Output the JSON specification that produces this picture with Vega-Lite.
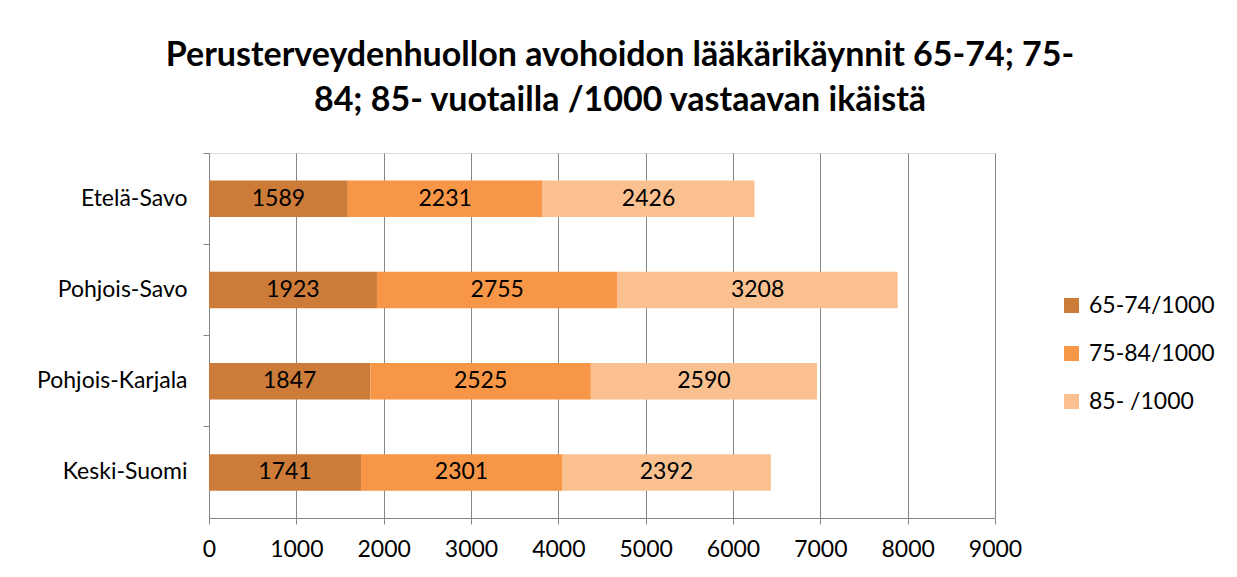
{
  "$schema": "https://vega.github.io/schema/vega-lite/v6.json",
  "autosize": {"type": "none"},
  "padding": {"left": 209, "top": 153, "right": 242, "bottom": 59},
  "width": 786,
  "height": 365,
  "background": "white",
  "title": {
    "text": ["Perusterveydenhuollon avohoidon lääkärikäynnit 65-74; 75-", "84; 85- vuotailla /1000 vastaavan ikäistä"],
    "font": "Lato",
    "fontSize": 34,
    "fontWeight": "bold",
    "color": "#000000",
    "anchor": "middle",
    "frame": "group",
    "dx": 18,
    "offset": 35,
    "lineHeight": 45
  },
  "data": {
    "values": [
      {"region": "Etelä-Savo", "group": "65-74/1000", "value": 1589},
      {"region": "Etelä-Savo", "group": "75-84/1000", "value": 2231},
      {"region": "Etelä-Savo", "group": "85- /1000", "value": 2426},
      {"region": "Pohjois-Savo", "group": "65-74/1000", "value": 1923},
      {"region": "Pohjois-Savo", "group": "75-84/1000", "value": 2755},
      {"region": "Pohjois-Savo", "group": "85- /1000", "value": 3208},
      {"region": "Pohjois-Karjala", "group": "65-74/1000", "value": 1847},
      {"region": "Pohjois-Karjala", "group": "75-84/1000", "value": 2525},
      {"region": "Pohjois-Karjala", "group": "85- /1000", "value": 2590},
      {"region": "Keski-Suomi", "group": "65-74/1000", "value": 1741},
      {"region": "Keski-Suomi", "group": "75-84/1000", "value": 2301},
      {"region": "Keski-Suomi", "group": "85- /1000", "value": 2392}
    ]
  },
  "transform": [
    {"stack": "value", "groupby": ["region"], "sort": [{"field": "group", "order": "ascending"}], "as": ["lo", "hi"]},
    {"calculate": "(datum.lo + datum.hi) / 2", "as": "mid"}
  ],
  "encoding": {
    "y": {
      "field": "region",
      "type": "nominal",
      "sort": ["Etelä-Savo", "Pohjois-Savo", "Pohjois-Karjala", "Keski-Suomi"],
      "scale": {"paddingInner": 0, "paddingOuter": 0},
      "axis": {
        "title": null,
        "bandPosition": 0,
        "grid": false,
        "domainColor": "#868686",
        "tickColor": "#868686",
        "tickSize": 6,
        "labelFont": "Lato",
        "labelFontSize": 23,
        "labelColor": "#000000",
        "labelPadding": 16,
        "labelBaseline": "middle"
      }
    }
  },
  "layer": [
    {
      "mark": {"type": "bar", "height": {"band": 0.4}},
      "encoding": {
        "x": {
          "field": "lo",
          "type": "quantitative",
          "scale": {"domain": [0, 9000], "nice": false},
          "axis": {
            "title": null,
            "values": [0, 1000, 2000, 3000, 4000, 5000, 6000, 7000, 8000, 9000],
            "format": "d",
            "grid": true,
            "gridColor": "#868686",
            "gridOpacity": 1,
            "domainColor": "#868686",
            "tickColor": "#868686",
            "tickSize": 6,
            "labelFont": "Lato",
            "labelFontSize": 23,
            "labelColor": "#000000",
            "labelPadding": 14,
            "labelFlush": false,
            "labelOverlap": false,
            "labelBound": false
          }
        },
        "x2": {"field": "hi"},
        "color": {
          "field": "group",
          "type": "nominal",
          "scale": {"domain": ["65-74/1000", "75-84/1000", "85- /1000"], "range": ["#CC7B38", "#F79646", "#FAC090"]},
          "legend": {
            "title": null,
            "orient": "none",
            "legendX": 851,
            "legendY": 141,
            "symbolType": "square",
            "symbolSize": 225,
            "symbolStrokeWidth": 0,
            "labelFont": "Lato",
            "labelFontSize": 23,
            "labelColor": "#000000",
            "labelOffset": 6,
            "rowPadding": 24
          }
        }
      }
    },
    {
      "mark": {"type": "text", "font": "Lato", "fontSize": 23, "color": "#000000", "align": "center", "baseline": "middle"},
      "encoding": {
        "x": {"field": "mid", "type": "quantitative"},
        "text": {"field": "value", "type": "quantitative", "format": "d"}
      }
    }
  ]
}
